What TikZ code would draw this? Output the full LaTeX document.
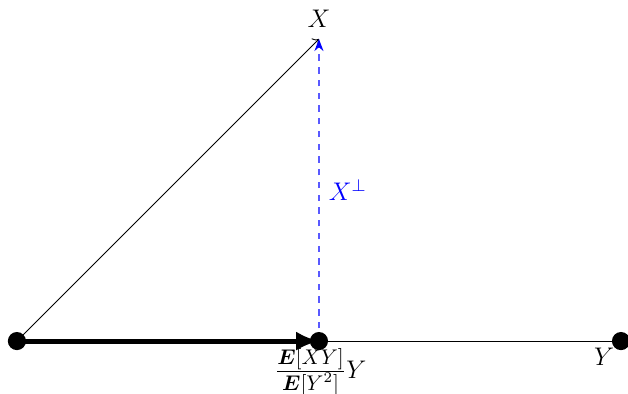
\documentclass[tikz,border=0pt]{standalone}
\usepackage{amsmath,bm}
\usetikzlibrary{arrows.meta}
\newcommand{\fracpart}[1]{\mbox{\normalsize$#1$}}
\begin{document}
\begin{tikzpicture}[every node/.style={font=\large}]
\useasboundingbox (-0.28,-0.86) rectangle (10.116,5.646);
\tikzset{dot/.style={circle,fill=black,inner sep=0pt,minimum size=0.3cm}}
\coordinate (O) at (0,0);
\coordinate (X) at (5,5);
\coordinate (P) at (5,0);
\coordinate (Y) at (10,0);
\draw[->] (O) -- (X);
\draw[->] (O) -- (Y);
\draw[draw=blue!65,line width=0.6pt,dashed,-{Stealth[blue]}] (P) -- node[right,text=blue,pos=0.5,xshift=1pt] {$X^{\perp}$} (X);
\draw[line width=2.4pt,-{Latex[length=0.38cm,width=0.32cm]}] (O) -- (P);
\node[dot] (o) at (O) {};
\node[dot] (p) at (P) {};
\node[dot] (y) at (Y) {};
\node[above,inner sep=5pt] (xl) at (X) {$X$};
\node[below left,inner sep=3pt] (yl) at (Y) {$Y$};
\node[below right,xshift=-22pt,yshift=-2.5pt,inner sep=1pt] (pl) at (P) {$\frac{\fracpart{\bm{E}[XY]}}{\fracpart{\bm{E}[Y^2]}}Y$};
\end{tikzpicture}
\end{document}
